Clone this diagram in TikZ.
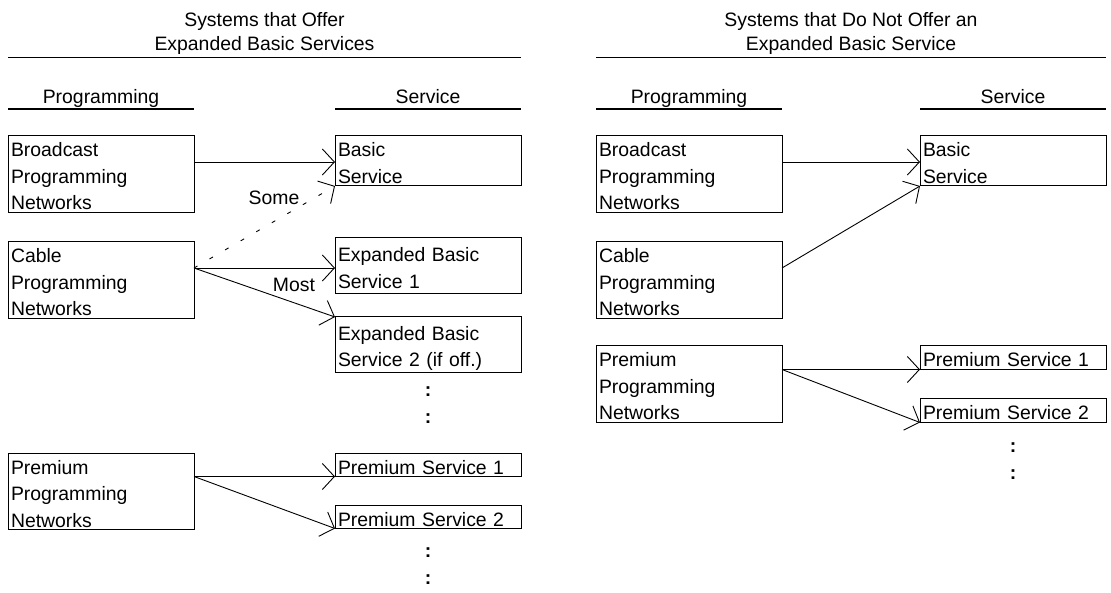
\documentclass[tikz,border=0pt]{standalone}
\usepackage{fontspec}
\setmainfont{Liberation Sans}
\usetikzlibrary{arrows.meta}

\newcommand{\boxfont}{\fontsize{19.4pt}{26.5pt}\selectfont}
\newcommand{\headfont}{\fontsize{19.4pt}{24pt}\selectfont}
\newcommand{\boxstrut}{\rule[-2.5pt]{0pt}{23.5pt}}

\tikzset{
  chan/.style={draw, line width=1pt, anchor=north west, align=left,
    text width=180pt, inner xsep=3pt, inner ysep=0pt, outer sep=0pt,
    font=\boxfont,
    execute at begin node=\boxstrut, execute at end node=\boxstrut},
  head/.style={anchor=south, align=center, inner sep=0pt, font=\headfont},
  col/.style={anchor=base, inner sep=0pt, font=\boxfont},
  rule/.style={line width=1.1pt},
  feed/.style={line width=0.9pt, -{Straight Barb[length=12pt,width=26pt]}},
  more/.style={anchor=base, inner sep=0pt, font=\boxfont\bfseries},
}

\begin{document}
\begin{tikzpicture}[x=1pt,y=-1pt]
  \useasboundingbox (0,0) rectangle (1111,593);
  % Headings
  \node[head] (hdL) at (264.5,55) {Systems that Offer\\Expanded Basic Services};
  \node[head] (hdR) at (851,55) {Systems that Do Not Offer an\\Expanded Basic Service};
  \draw[rule] (8,57.5) -- (521,57.5);
  \draw[rule] (596,57.5) -- (1106,57.5);
  % Column titles
  \node[col] (prgL) at (101,104) {Programming};
  \node[col] (srvL) at (428,104) {Service};
  \node[col] (prgR) at (689,104) {Programming};
  \node[col] (srvR) at (1013,104) {Service};
  \draw[rule] (8,109) -- (194,109);
  \draw[rule] (335,109) -- (521,109);
  \draw[rule] (596,109) -- (782,109);
  \draw[rule] (920,109) -- (1106,109);

  % Left: systems with expanded basic
  \node[chan] (bcastL) at (8,136) {Broadcast\\Programming\\Networks};
  \node[chan] (cableL) at (8,242) {Cable\\Programming\\Networks};
  \node[chan] (premL) at (8,453) {Premium\\Programming\\Networks};
  \node[chan] (basicL) at (335,136) {Basic\\Service};
  \node[chan, minimum height=56pt] (expA) at (335,238) {Expanded Basic\\Service 1};
  \node[chan, minimum height=56pt] (expB) at (335,317) {Expanded Basic\\Service 2 (if off.)};
  \node[chan] (premAL) at (335,453) {Premium Service 1};
  \node[chan] (premBL) at (335,505) {Premium Service 2};
  \node[more] (dotAL) at (428,396) {:};
  \node[more] (dotBL) at (428,423) {:};
  \node[more] (dotCL) at (428,557) {:};
  \node[more] (dotDL) at (428,584) {:};

  \coordinate (bcastLo) at ([yshift=-26pt]bcastL.north east);
  \coordinate (cableLo) at ([yshift=-26pt]cableL.north east);
  \coordinate (premLo) at (premL.east |- premAL.south);
  \draw[feed] (bcastLo) -- (bcastLo -| basicL.west);
  \draw[feed, dash pattern=on 4pt off 14pt] (cableLo) -- (basicL.south west);
  \draw[feed] (cableLo) -- (cableLo -| expA.west);
  \draw[feed] (cableLo) -- (expB.north west);
  \draw[feed] (premLo) -- (premAL.south west);
  \draw[feed] (premLo) -- (premBL.south west);
  \node[col] (some) at (274,205) {Some};
  \node[col] (most) at (294,292) {Most};

  % Right: systems without expanded basic
  \node[chan] (bcastR) at (596,136) {Broadcast\\Programming\\Networks};
  \node[chan] (cableR) at (596,242) {Cable\\Programming\\Networks};
  \node[chan] (premR) at (596,346) {Premium\\Programming\\Networks};
  \node[chan] (basicR) at (920,136) {Basic\\Service};
  \node[chan] (premAR) at (920,346) {Premium Service 1};
  \node[chan] (premBR) at (920,399) {Premium Service 2};
  \node[more] (dotAR) at (1013,452) {:};
  \node[more] (dotBR) at (1013,479) {:};

  \coordinate (bcastRo) at ([yshift=-26pt]bcastR.north east);
  \coordinate (cableRo) at ([yshift=-26pt]cableR.north east);
  \coordinate (premRo) at (premR.east |- premAR.south);
  \draw[feed] (bcastRo) -- (bcastRo -| basicR.west);
  \draw[feed] (cableRo) -- (basicR.south west);
  \draw[feed] (premRo) -- (premAR.south west);
  \draw[feed] (premRo) -- (premBR.south west);
\end{tikzpicture}
\end{document}
